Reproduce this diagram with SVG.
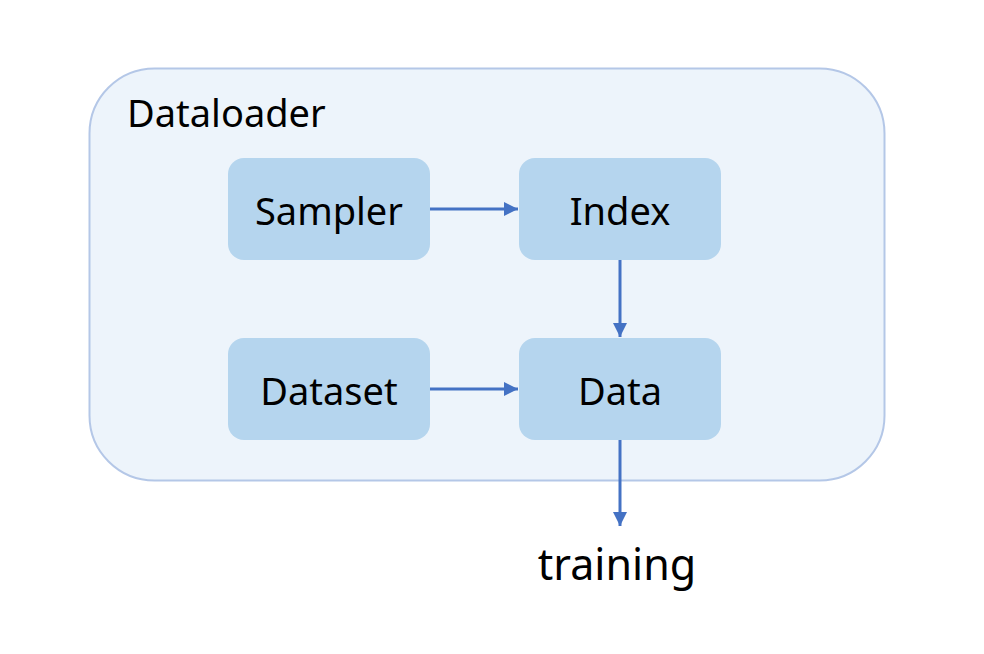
<svg xmlns="http://www.w3.org/2000/svg" width="984" height="654" viewBox="0 0 984 654">
<style>
.lbl{font-family:"Noto Sans","Liberation Sans",sans-serif;font-size:38px;fill:#000}
.box{fill:#B5D5EE}
.con{stroke:#4472C4;stroke-width:3;fill:none}
</style>
<defs>
<marker id="ah" markerUnits="userSpaceOnUse" markerWidth="14" markerHeight="14" refX="12" refY="6" orient="auto" viewBox="0 0 12 12">
<path d="M0,0 L12,6 L0,12 Z" fill="#4472C4"/>
</marker>
</defs>
<rect width="984" height="654" fill="#fff"/>
<g id="dataloader">
<rect x="89.5" y="68.5" width="795" height="412" rx="65" fill="#EDF4FB" stroke="#B4C7E7" stroke-width="2"/>
<text class="lbl" x="127" y="127">Dataloader</text>
</g>
<g id="sampler"><rect class="box" x="228" y="158" width="202" height="102" rx="16"/><text class="lbl" x="329" y="225" text-anchor="middle">Sampler</text></g>
<g id="index"><rect class="box" x="519" y="158" width="202" height="102" rx="16"/><text class="lbl" x="620" y="225" text-anchor="middle">Index</text></g>
<g id="dataset"><rect class="box" x="228" y="338" width="202" height="102" rx="16"/><text class="lbl" x="329" y="405" text-anchor="middle">Dataset</text></g>
<g id="data"><rect class="box" x="519" y="338" width="202" height="102" rx="16"/><text class="lbl" x="620" y="405" text-anchor="middle">Data</text></g>
<g id="training"><text class="lbl" x="617" y="580" text-anchor="middle" style="font-size:43px">training</text></g>
<g id="connectors">
<line class="con" x1="430" y1="209" x2="518" y2="209" marker-end="url(#ah)"/>
<line class="con" x1="620" y1="260" x2="620" y2="337" marker-end="url(#ah)"/>
<line class="con" x1="430" y1="389" x2="518" y2="389" marker-end="url(#ah)"/>
<line class="con" x1="620" y1="440" x2="620" y2="526" marker-end="url(#ah)"/>
</g>
</svg>
